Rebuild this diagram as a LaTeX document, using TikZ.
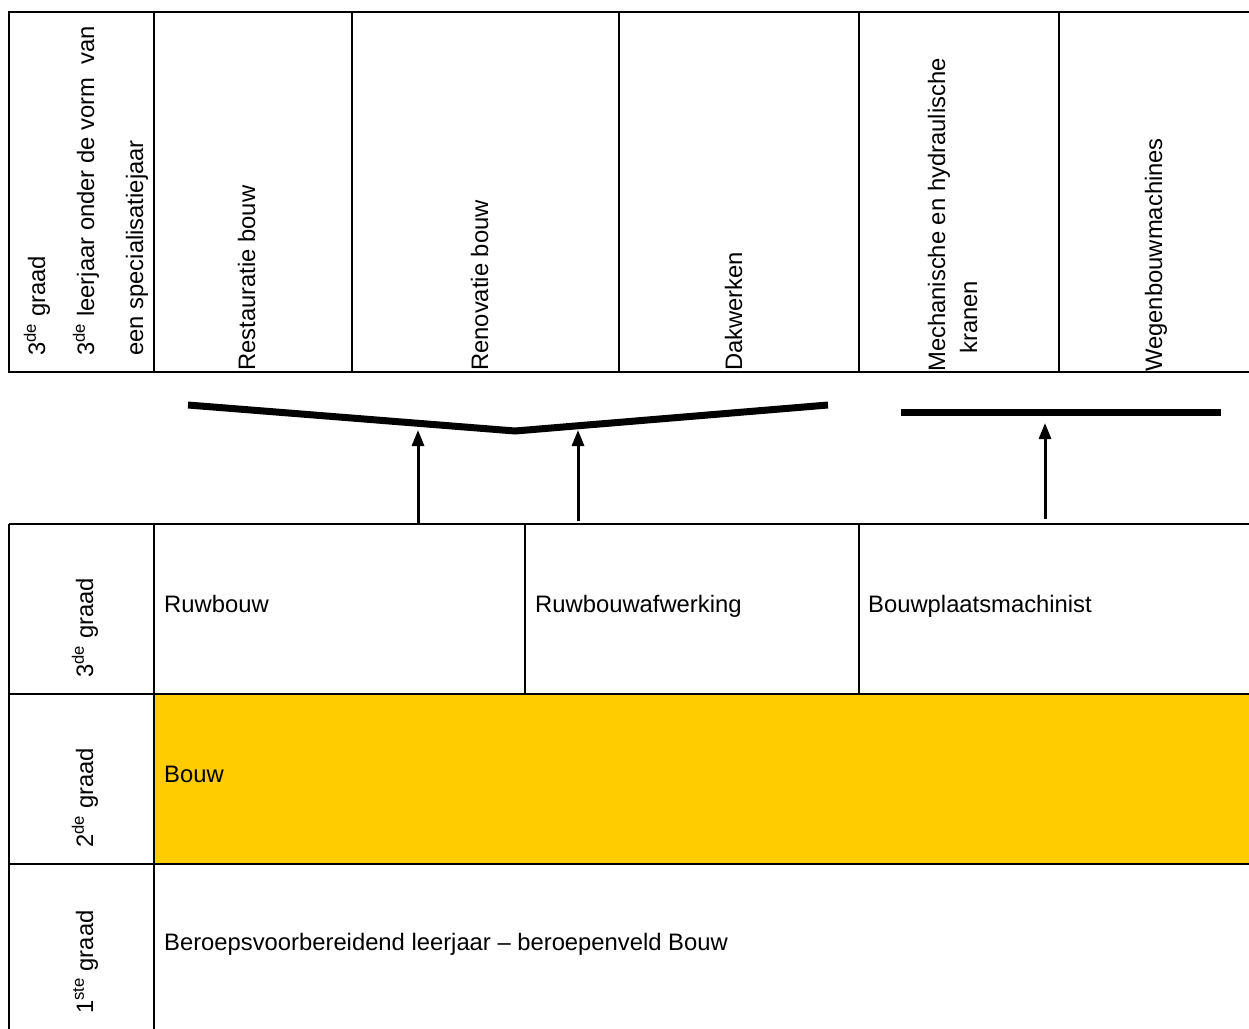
\documentclass[tikz,border=0pt]{standalone}
\usepackage{fontspec}
\setmainfont{Liberation Sans}
\usepackage{tikz}
\usetikzlibrary{arrows.meta}
\definecolor{bouwgeel}{HTML}{FFCC00}
\tikzset{
  grid/.style={line width=2pt},
  bar/.style={line width=7pt},
  up/.style={-{Triangle[length=16pt,width=12pt]}, line width=3pt},
  vlabel/.style={rotate=90, anchor=base west, inner sep=0pt, align=left},
  hlabel/.style={anchor=base west, inner sep=0pt}
}
\newcommand{\de}{\textsuperscript{de}}

\begin{document}
\begin{tikzpicture}[x=1pt, y=-1pt, font=\fontsize{23.8}{28}\selectfont]
  \useasboundingbox (0,0) rectangle (1249,1028);
  \clip (0,0) rectangle (1249,1028);
  % top table
  \draw[grid] (1260,12) -- (9,12) -- (9,372) -- (1260,372);
  \foreach \x in {154,352,619,859,1059}
    \draw[grid] (\x,12) -- (\x,372);
  \node[vlabel, font=\fontsize{23.8}{49}\selectfont] (spec) at (143,356)
    {3\de{} graad\\3\de{} leerjaar onder de vorm\ \ van\\een specialisatiejaar};
  \node[vlabel] (restauratie) at (255,371) {Restauratie bouw};
  \node[vlabel] (renovatie) at (488,371) {Renovatie bouw};
  \node[vlabel] (dakwerken) at (742,371) {Dakwerken};
  \node[vlabel, font=\fontsize{23.8}{32}\selectfont] (kranen) at (977,372)
    {Mechanische en hydraulische\\\hspace*{18pt}kranen};
  \node[vlabel] (wegenbouw) at (1162,372) {Wegenbouwmachines};
  % bars
  \coordinate (vL) at (188,405);
  \coordinate (vM) at (515,431);
  \coordinate (vR) at (828,405);
  \coordinate (hL) at (901,412);
  \coordinate (hR) at (1221,412);
  \draw[bar] (vL) -- (vM) -- (vR);
  \draw[bar] (hL) -- (hR);
  % bottom table
  \fill[bouwgeel] (154,694) rectangle (1260,864);
  \foreach \y in {524,694,864}
    \draw[grid] (9,\y) -- (1260,\y);
  \draw[grid] (9,524) -- (9,1040);
  \draw[grid] (154,524) -- (154,1040);
  \draw[grid] (525,524) -- (525,694);
  \draw[grid] (859,524) -- (859,694);
  \node[vlabel] (graad3) at (93,678) {3\de{} graad};
  \node[vlabel] (graad2) at (93,848) {2\de{} graad};
  \node[vlabel] (graad1) at (93,1014) {1\textsuperscript{ste} graad};
  \node[hlabel] (ruwbouw) at (164,612) {Ruwbouw};
  \node[hlabel] (afwerking) at (535,612) {Ruwbouwafwerking};
  \node[hlabel] (machinist) at (868,612) {Bouwplaatsmachinist};
  \node[hlabel] (bouw) at (164,782) {Bouw};
  \node[hlabel] (beroeps) at (164,950) {Beroepsvoorbereidend leerjaar – beroepenveld Bouw};
  % arrows
  \coordinate (s1) at (418,524);
  \coordinate (t1) at (418,430);
  \coordinate (s2) at (578,521);
  \coordinate (t2) at (578,430);
  \coordinate (s3) at (1045,519);
  \coordinate (t3) at (1045,423);
  \path[up]
  (s1) edge (t1)
  (s2) edge (t2)
  (s3) edge (t3)
  ;
\end{tikzpicture}
\end{document}
